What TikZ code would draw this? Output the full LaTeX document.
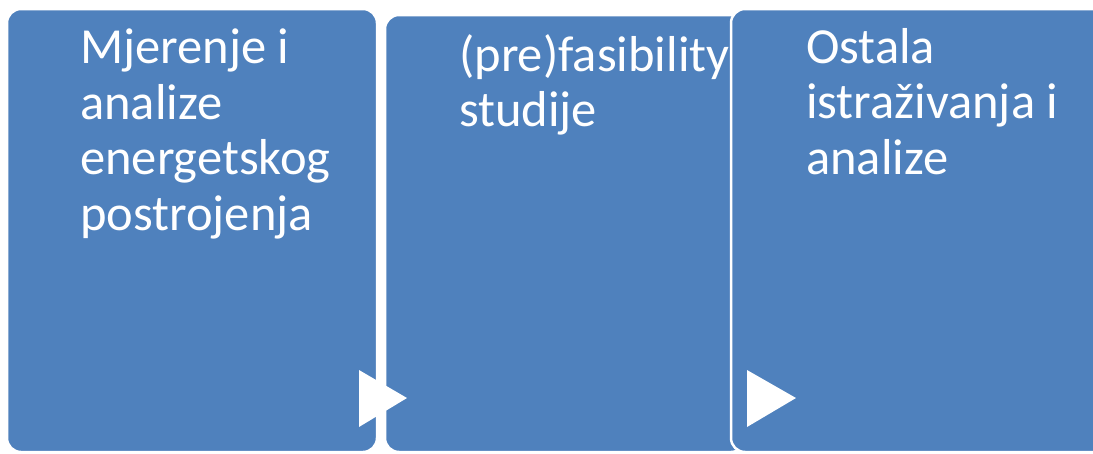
\documentclass[tikz,border=0pt]{standalone}
\usepackage{fontspec}
\setmainfont{Carlito}
\usepackage{tikz}
\usetikzlibrary{positioning}
\definecolor{palBlock}{HTML}{4F81BD}
\tikzset{
  blockbox/.style={draw=white, fill=palBlock, line width=2.5pt,
                   rounded corners=14pt, anchor=north west, inner sep=0pt,
                   outer sep=0pt},
  blocktext/.style={text=white, font=\fontsize{50.5}{55.5}\selectfont,
                    align=left, inner sep=0pt, anchor=north west},
  steparrow/.style={fill=white},
}
\begin{document}
\begin{tikzpicture}[x=1pt, y=-1pt]
\useasboundingbox (0,0) rectangle (1093,453);
\clip (0,0) rectangle (1093,453);
%% Blocks
\node[blockbox, minimum width=370pt, minimum height=443pt] (b1) at (7,9) {};
\node[blocktext, below right=20pt and 73pt of b1.north west] (t1)
  {Mjerenje i\\analize\\energetskog\\postrojenja};
\node[blockbox, minimum width=360pt, minimum height=437pt] (b2) at (385,15) {};
\node[blocktext, below right=19pt and 74pt of b2.north west] (t2)
  {(pre)fasibility\\studije};
%% Arrow between first and second block
\fill[steparrow] (359,370) -- (359,427) -- (407,398) -- cycle;
\node[blockbox, minimum width=400pt, minimum height=443pt] (b3) at (731,9) {};
\node[blocktext, below right=19pt and 75pt of b3.north west] (t3)
  {Ostala\\istraživanja i\\analize};
%% Arrow inside third block
\fill[steparrow] (747,370) -- (747,427) -- (796,398) -- cycle;
\end{tikzpicture}
\end{document}
